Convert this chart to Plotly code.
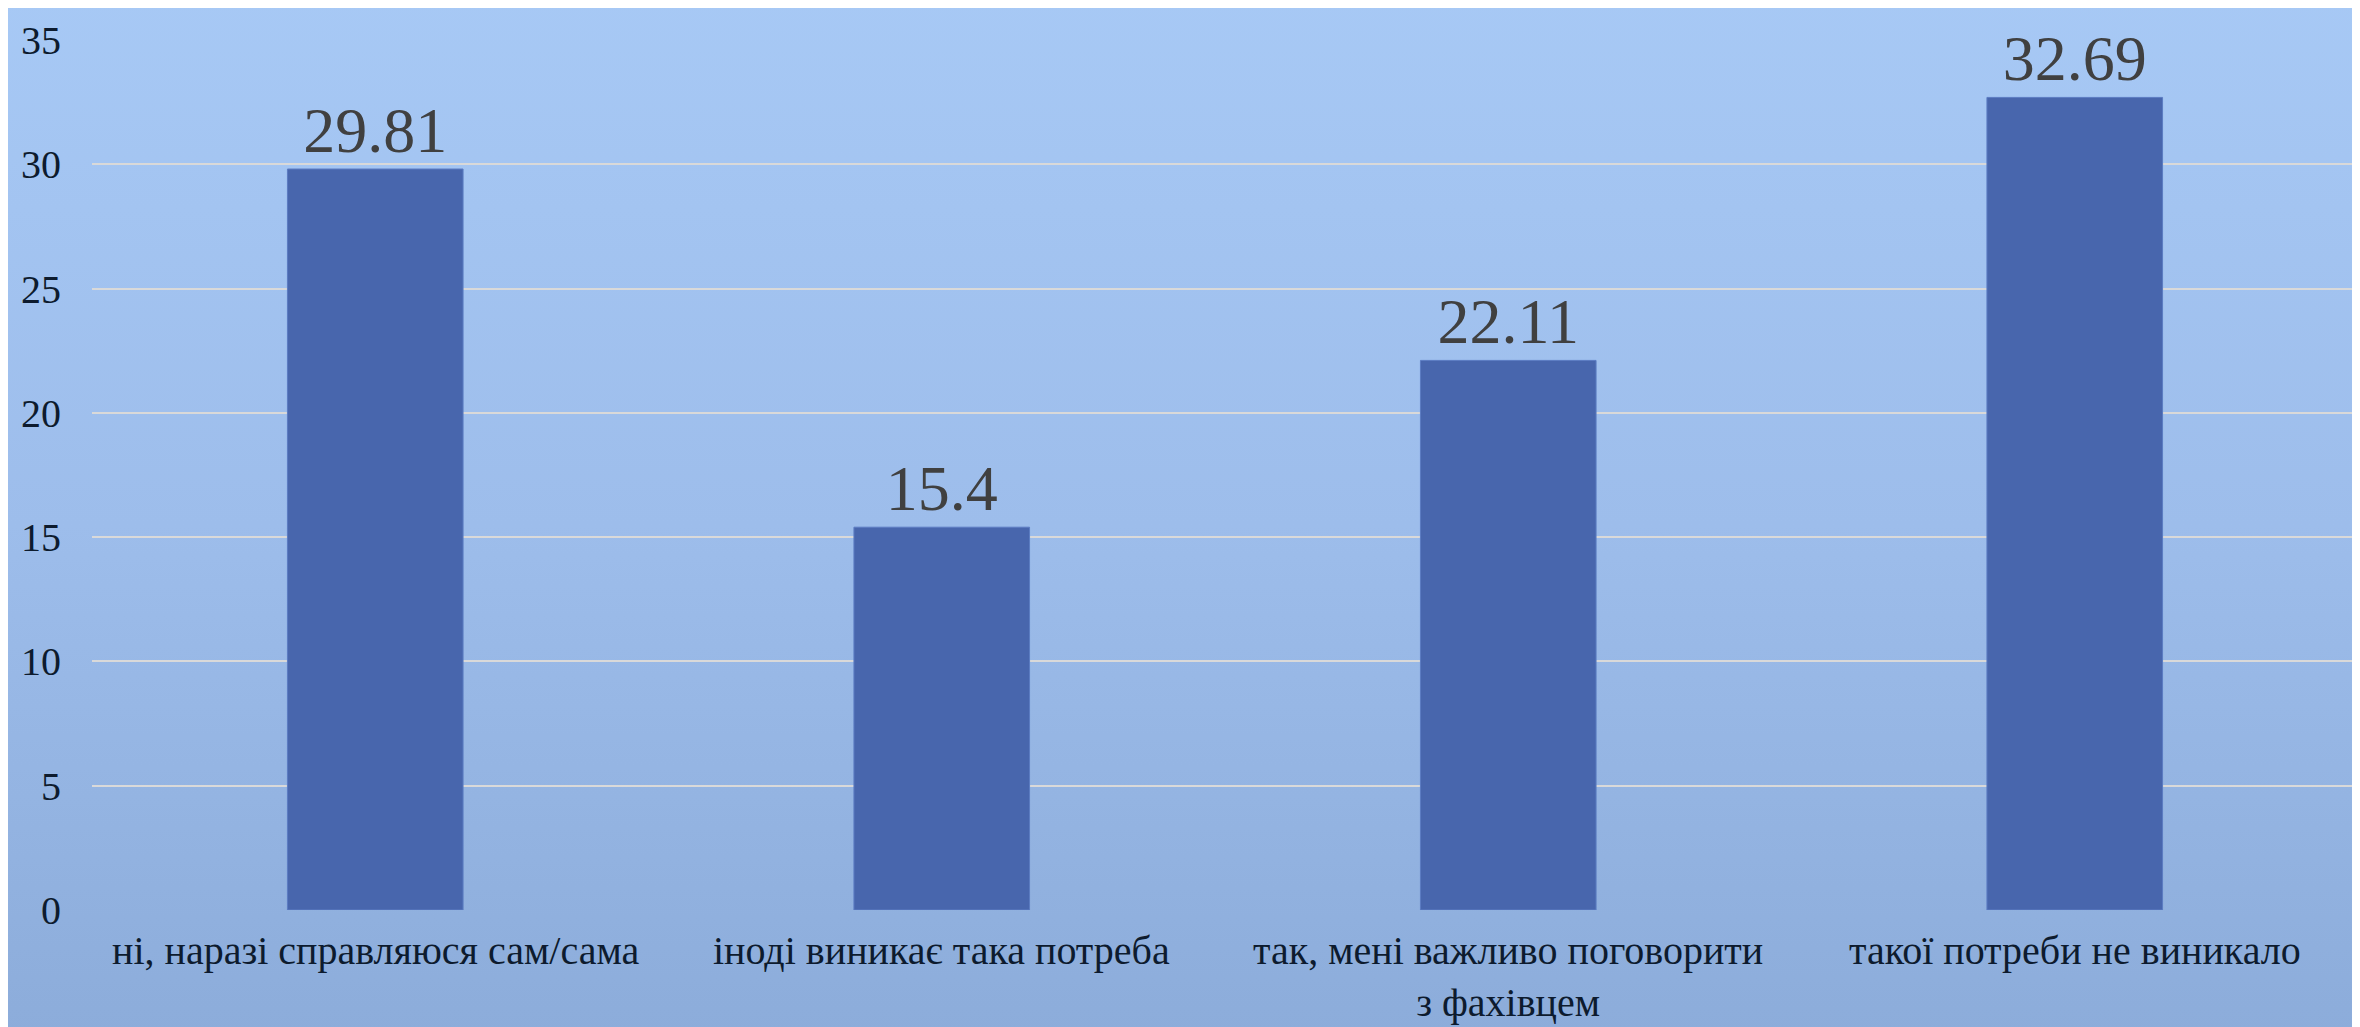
import base64
import plotly.graph_objects as go

categories = [
    "ні, наразі справляюся сам/сама",
    "іноді виникає така потреба",
    "так, мені важливо поговорити<br>з фахівцем",
    "такої потреби не виникало",
]
values = [29.81, 15.4, 22.11, 32.69]
value_labels = ["29.81", "15.4", "22.11", "32.69"]
y_ticks = [0, 5, 10, 15, 20, 25, 30, 35]

W, H = 2360, 1027
ml, mr, mt, mb = 84, 10, 24, 125
SERIF = "Liberation Serif, Times New Roman, serif"

# фон з вертикальним градієнтом (як у слайді)
svg = (
    '<svg xmlns="http://www.w3.org/2000/svg" width="100" height="100" preserveAspectRatio="none">'
    '<defs><linearGradient id="g" x1="0" y1="0" x2="0" y2="1">'
    '<stop offset="0" stop-color="#A9CBF7"/>'
    '<stop offset="0.5" stop-color="#9DBDEB"/>'
    '<stop offset="1" stop-color="#88A8D6"/>'
    '</linearGradient></defs>'
    '<rect x="-10" y="-10" width="120" height="120" fill="url(#g)"/></svg>'
)
bg_src = "data:image/svg+xml;base64," + base64.b64encode(svg.encode()).decode()

pw = W - ml - mr
ph = H - mt - mb
pad = 20

fig = go.Figure()
fig.add_trace(
    go.Bar(
        x=categories,
        y=values,
        text=value_labels,
        textposition="outside",
        textfont=dict(family=SERIF, size=64, color="#404040"),
        marker=dict(color="#4866AD", line=dict(color="#5C7CC2", width=1)),
        cliponaxis=False,
    )
)

# підписи категорій трохи нижче від осі, як у референсі
for cat in categories:
    fig.add_annotation(
        x=cat, y=0, xref="x", yref="y",
        text=cat,
        showarrow=False,
        yanchor="top",
        yshift=-16,
        align="center",
        font=dict(family=SERIF, size=40, color="#0D1B2E"),
    )

fig.add_layout_image(
    dict(
        source=bg_src,
        xref="paper", yref="paper",
        x=-(ml + pad) / pw, y=1 + (mt + pad) / ph,
        sizex=(W + 2 * pad) / pw, sizey=(H + 2 * pad) / ph,
        xanchor="left", yanchor="top",
        sizing="stretch",
        layer="below",
    )
)

fig.update_layout(
    width=W,
    height=H,
    margin=dict(l=ml, r=mr, t=mt, b=mb),
    paper_bgcolor="#9DBDEB",
    plot_bgcolor="rgba(0,0,0,0)",
    bargap=0.69,
    showlegend=False,
    font=dict(family=SERIF, color="#0D1B2E"),
    xaxis=dict(
        type="category",
        showgrid=False,
        showline=False,
        ticks="",
        showticklabels=False,
    ),
    yaxis=dict(
        range=[0, 35],
        tickvals=y_ticks,
        showgrid=True,
        gridcolor="#D9D9D9",
        gridwidth=2,
        zeroline=False,
        showline=False,
        ticks="",
        tickfont=dict(family=SERIF, size=40, color="#0D1B2E"),
        ticklabelstandoff=30,
    ),
)

fig.write_html("out.html", config={"displayModeBar": False})
